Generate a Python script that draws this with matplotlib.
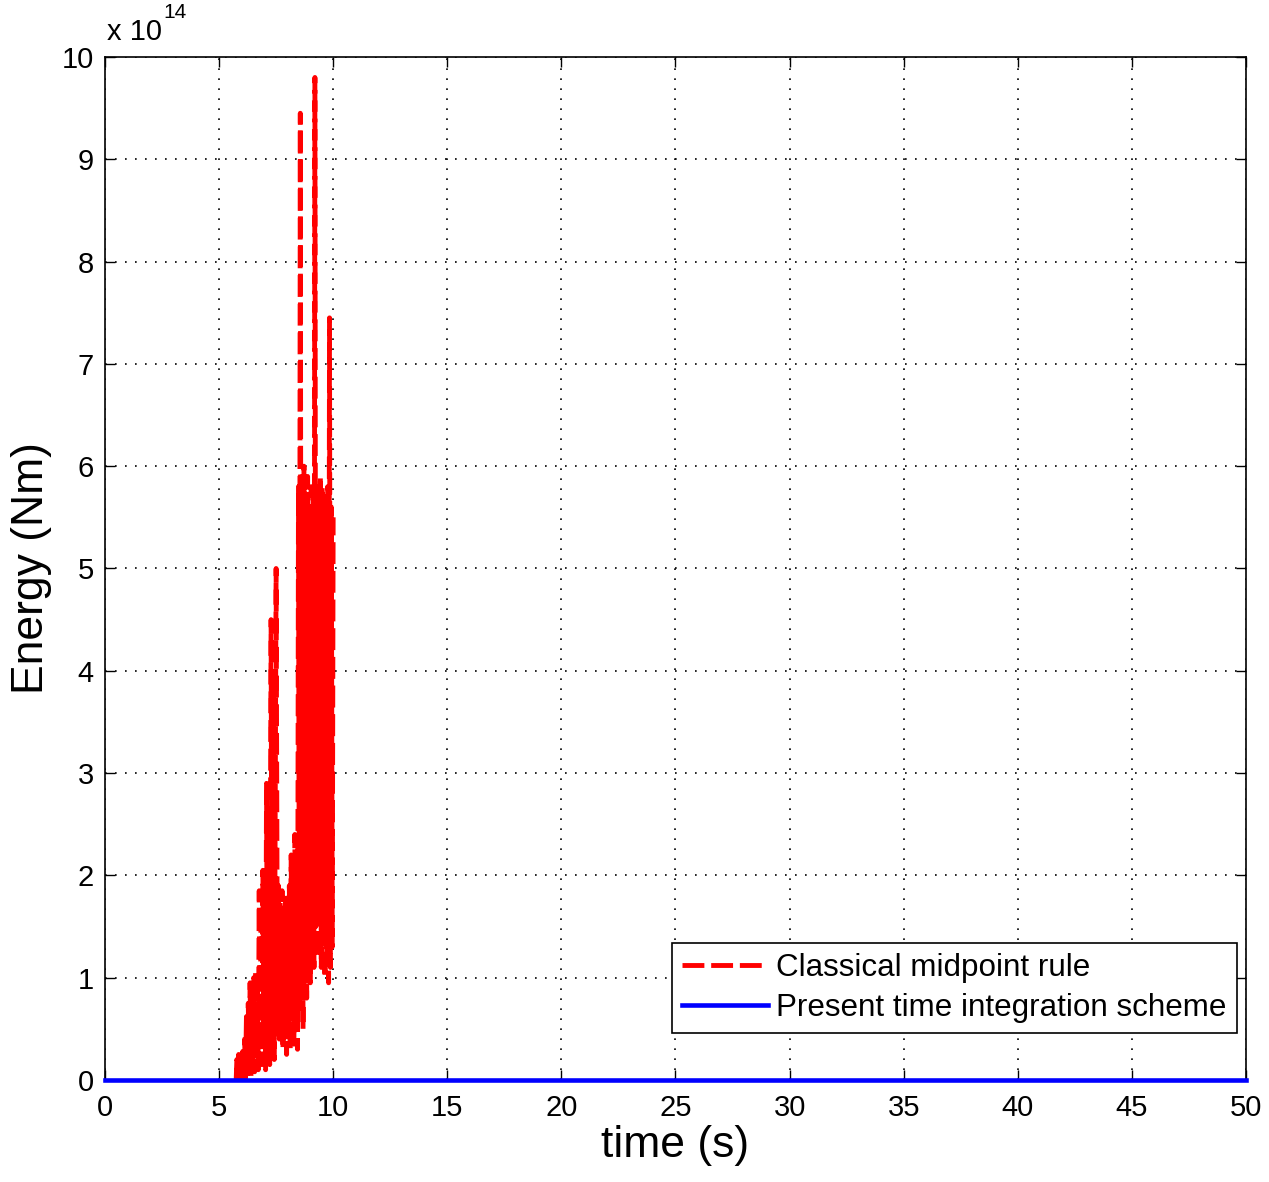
import numpy as np
import matplotlib
matplotlib.use('Agg')
import matplotlib.pyplot as plt

plt.rcParams['font.family'] = ['Liberation Sans', 'DejaVu Sans']

# energy in units of 1e14 Nm
t_mid = [5.75, 5.78, 5.82, 5.86, 5.90, 5.95, 6.00, 6.04, 6.08, 6.12, 6.16, 6.20,
         6.24, 6.28, 6.32, 6.36, 6.40, 6.44, 6.48, 6.52, 6.56, 6.60, 6.64, 6.68,
         6.72, 6.76, 6.80, 6.84, 6.88, 6.92, 6.96, 7.00, 7.04, 7.08, 7.12, 7.18,
         7.22, 7.28, 7.32, 7.38, 7.42, 7.50, 7.56, 7.60, 7.64, 7.68, 7.72, 7.76,
         7.80, 7.84, 7.88, 7.92, 7.96, 8.00, 8.04, 8.08, 8.12, 8.16, 8.20, 8.24,
         8.28, 8.32, 8.36, 8.40, 8.44, 8.48, 8.52, 8.56, 8.60, 8.64, 8.68, 8.72,
         8.76, 8.80, 8.84, 8.88, 8.92, 8.96, 9.00, 9.04, 9.08, 9.12, 9.16, 9.20,
         9.24, 9.28, 9.32, 9.36, 9.40, 9.44, 9.48, 9.52, 9.56, 9.60, 9.64, 9.68,
         9.72, 9.76, 9.80, 9.84, 9.88, 9.92, 9.96, 10.00]
e_mid = [0.00, 0.20, 0.02, 0.25, 0.00, 0.18, 0.03, 0.28, 0.05, 0.40, 0.02, 0.62,
         0.06, 0.75, 0.10, 0.95, 0.04, 0.80, 0.12, 1.00, 0.08, 1.05, 0.20, 0.90,
         0.10, 1.85, 0.30, 1.70, 0.15, 2.05, 0.40, 1.60, 0.10, 2.90, 0.35, 2.20,
         0.15, 4.50, 0.50, 3.80, 0.20, 5.00, 0.45, 1.90, 0.40, 1.75, 0.60, 1.85,
         0.30, 1.60, 0.55, 1.80, 0.25, 1.70, 0.45, 1.90, 0.30, 2.20, 0.60, 2.00,
         0.35, 2.40, 0.50, 2.10, 0.30, 5.80, 0.70, 9.45, 0.90, 5.90, 0.50, 6.00,
         1.20, 5.70, 0.80, 5.90, 1.40, 5.60, 0.95, 5.80, 1.30, 5.70, 1.10, 9.80,
         1.50, 5.80, 1.20, 5.70, 1.60, 5.90, 1.10, 5.80, 1.40, 5.60, 1.00, 5.70,
         1.20, 5.80, 0.95, 7.45, 1.10, 5.60, 1.30, 5.50]

t_new = [0, 50]
e_new = [0, 0]

fig = plt.figure(figsize=(12.69, 11.82), dpi=100)
ax = fig.add_axes([0.0827, 0.0863, 0.8992, 0.8655])

ax.plot(t_mid, e_mid, color='red', lw=3.5, dashes=(4.5, 1.4), label='Classical midpoint rule')
ax.plot(t_new, e_new, color='blue', lw=3.3, label='Present time integration scheme',
        clip_on=False, zorder=5)

ax.set_xlim(0, 50)
ax.set_ylim(0, 10)
ax.set_xticks(np.arange(0, 51, 5))
ax.set_yticks(np.arange(0, 11, 1))
ax.grid(True, color='black', linestyle=(0, (1, 5)), linewidth=1.2)
ax.tick_params(direction='in', length=7, width=1, top=True, right=True,
               labelsize=21, pad=8)
ax.tick_params(axis='x', pad=10)
for s in ax.spines.values():
    s.set_linewidth(1.2)

ax.set_xlabel('time (s)', fontsize=32, labelpad=2)
ax.set_ylabel('Energy (Nm)', fontsize=32, labelpad=7)

ax.text(0.002, 1.011, 'x 10', transform=ax.transAxes, fontsize=21,
        ha='left', va='bottom')
ax.text(0.051, 1.034, '14', transform=ax.transAxes, fontsize=15,
        ha='left', va='bottom')

leg = ax.legend(loc='lower right', bbox_to_anchor=(0.992, 0.046), borderaxespad=0,
                fontsize=22.6, handlelength=2.75, handletextpad=0.25,
                fancybox=False, framealpha=1, edgecolor='black',
                borderpad=0.33, labelspacing=0.3)
leg.get_frame().set_linewidth(1.2)

fig.savefig('out.png', dpi=100)
